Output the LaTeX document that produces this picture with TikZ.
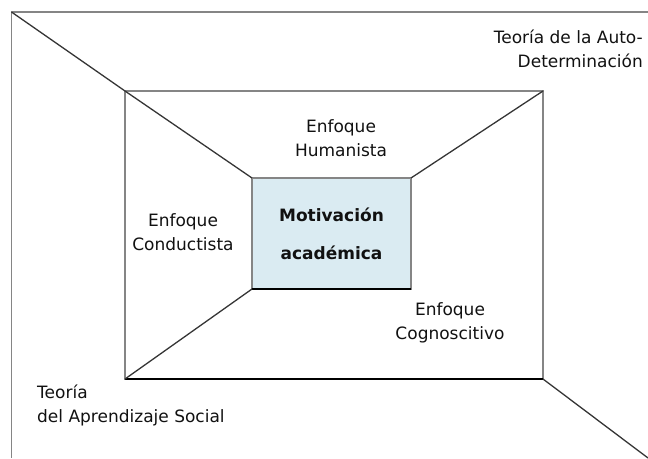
\documentclass[tikz,border=0pt]{standalone}
\usepackage{fontspec}
\setmainfont{DejaVu Sans}
\usepackage{tikz}
\usetikzlibrary{positioning}
\definecolor{celeste}{HTML}{DAEBF2}
\definecolor{gris}{HTML}{858585}
\definecolor{oscuro}{HTML}{353535}
\definecolor{tinta}{HTML}{111111}
\tikzstyle{marcos} = [gris, line width=1.7pt]
\tikzstyle{linea} = [oscuro, line width=1.3pt]
\tikzstyle{texto} = [draw=none, align=center, text=tinta, inner sep=0pt, font=\fontsize{17}{24}\selectfont]

\begin{document}
\begin{tikzpicture}[x=1pt, y=-1pt]
  \useasboundingbox (0,0) rectangle (648,458);
  % Outer frame (open at right and bottom)
  \coordinate (ext) at (11.5,12);
  \coordinate (extder) at (648,12);
  \coordinate (extinf) at (11.5,458);
  \coordinate (fin) at (648,458);
  \draw[marcos] (extder) -- (ext) -- (extinf);

  % Inner frame and central box
  \node[draw=gris, line width=1.7pt, inner sep=0pt, outer sep=0pt, minimum width=418pt, minimum height=288pt] (marco) at (334,235) {};
  \node[draw=gris, fill=celeste, line width=1.7pt, inner sep=0pt, outer sep=0pt, minimum width=159pt, minimum height=111pt] (mot) at (331.5,233.5) {};
  \draw[black, line width=1.9pt] (marco.south west) -- (marco.south east);
  \draw[black, line width=1.9pt] (mot.south west) -- (mot.south east);

  % Diagonals
  \draw[linea] (ext) -- (marco.north west);
  \draw[linea] (marco.north west) -- (mot.north west);
  \draw[linea] (marco.north east) -- (mot.north east);
  \draw[linea] (marco.south west) -- (mot.south west);
  \draw[linea] (marco.south east) -- (fin);

  % Labels
  \node[texto, font=\bfseries\fontsize{17}{38}\selectfont] (motlabel) at (mot.center) {Motivación\\académica};
  \node[texto] (humanista) at (341,138) {Enfoque\\Humanista};
  \node[texto] (conductista) at (183,232) {Enfoque\\Conductista};
  \node[texto] (cognoscitivo) at (450,323) {Enfoque\\Cognoscitivo};
  \node[texto, align=right, anchor=east] (autodet) at (643,49) {Teoría de la Auto-\\Determinación};
  \node[texto, align=left, anchor=west] (social) at (37,405) {Teoría\\del Aprendizaje Social};
\end{tikzpicture}
\end{document}
